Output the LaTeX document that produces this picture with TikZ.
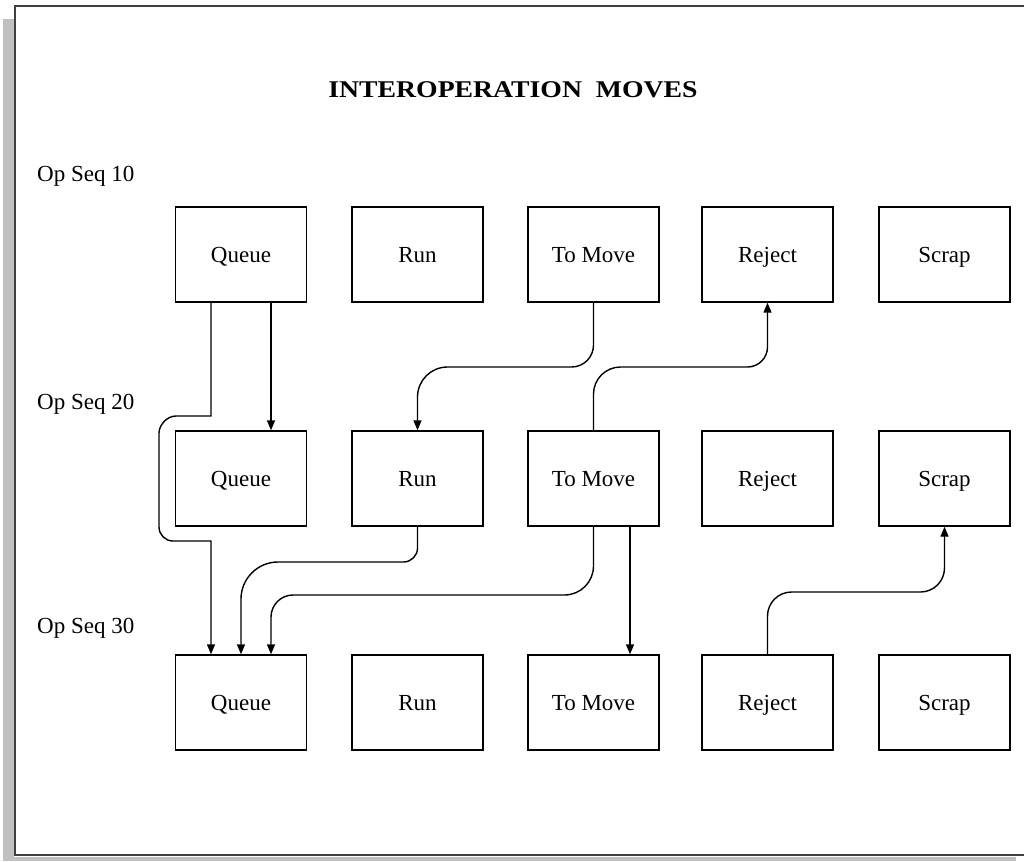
\documentclass[tikz,border=0pt]{standalone}
\usepackage{fontspec}
\setmainfont{Liberation Serif}
\usetikzlibrary{arrows.meta,calc}
\definecolor{shadowgray}{HTML}{C0C0C0}
\definecolor{framegray}{HTML}{404040}
\begin{document}
\begin{tikzpicture}[x=1pt,y=-1pt,
  box/.style={draw, line width=1.4pt, minimum width=131pt, minimum height=95pt,
    inner sep=0pt, text height=15pt, text depth=0pt, font=\fontsize{23}{26}\selectfont},
  conn/.style={line width=1.4pt, -{Triangle[length=10pt,width=8pt]}},
  seqlbl/.style={anchor=base west, inner sep=0pt, font=\fontsize{23}{26}\selectfont},
  titlelbl/.style={anchor=base, inner sep=0pt, font=\fontsize{24}{28}\selectfont\bfseries}]
\useasboundingbox (0,0) rectangle (1024,861);
% frame and shadow
\fill[shadowgray] (3,19) rectangle (14,861);
\fill[shadowgray] (3,857) rectangle (1016,861);
\draw[framegray, line width=2pt] (1030,6) -- (15,6) -- (15,855) -- (1030,855);
% title and labels
\node[titlelbl] (title) at (513,98) {\scalebox{1.155}[1]{INTEROPERATION\ \ MOVES}};
\node[seqlbl] (seq10) at (37,182) {Op Seq 10};
\node[seqlbl] (seq20) at (37,409) {Op Seq 20};
\node[seqlbl] (seq30) at (37,633) {Op Seq 30};
% boxes
\foreach \r/\y in {1/254.5, 2/478.5, 3/702.5} {
  \node[box] (q\r) at (241,\y) {Queue};
  \node[box] (r\r) at (417.5,\y) {Run};
  \node[box] (m\r) at (593.5,\y) {To Move};
  \node[box] (j\r) at (767.5,\y) {Reject};
  \node[box] (s\r) at (944.5,\y) {Scrap};
}
% connectors
\draw[conn] ([xshift=-30pt]q1.south) -- (211,416) -- (176,416)
  .. controls (166.6,416) and (159,425.4) .. (159,433) -- (159,527)
  .. controls (159,534.7) and (165.3,541) .. (173,541) -- (211,541)
  -- ([xshift=-30pt]q3.north);
\draw[conn] ([xshift=30pt]q1.south) -- ([xshift=30pt]q2.north);
\draw[conn] (m1.south) -- (593.5,345)
  .. controls (593.5,357.2) and (583.7,367) .. (571.5,367) -- (447.5,367)
  .. controls (430.9,367) and (417.5,380.4) .. (417.5,397) -- (r2.north);
\draw[conn] (m2.north) -- (593.5,394)
  .. controls (593.5,379.1) and (605.6,367) .. (620.5,367) -- (747.5,367)
  .. controls (758.5,367) and (767.5,358) .. (767.5,347) -- (j1.south);
\draw[conn] (r2.south) -- (417.5,548)
  .. controls (417.5,555.7) and (411.2,562) .. (403.5,562) -- (278,562)
  .. controls (257.6,562) and (241,578.6) .. (241,599) -- (q3.north);
\draw[conn] (m2.south) -- (593.5,566)
  .. controls (593.5,582) and (580.5,595) .. (564.5,595) -- (293,595)
  .. controls (280.9,595) and (271,604.9) .. (271,617) -- ([xshift=30pt]q3.north);
\draw[conn] ([xshift=36.5pt]m2.south) -- ([xshift=36.5pt]m3.north);
\draw[conn] (j3.north) -- (767.5,616)
  .. controls (767.5,602.8) and (778.3,592) .. (791.5,592) -- (920.5,592)
  .. controls (933.8,592) and (944.5,581.2) .. (944.5,568) -- (s2.south);
\end{tikzpicture}
\end{document}
